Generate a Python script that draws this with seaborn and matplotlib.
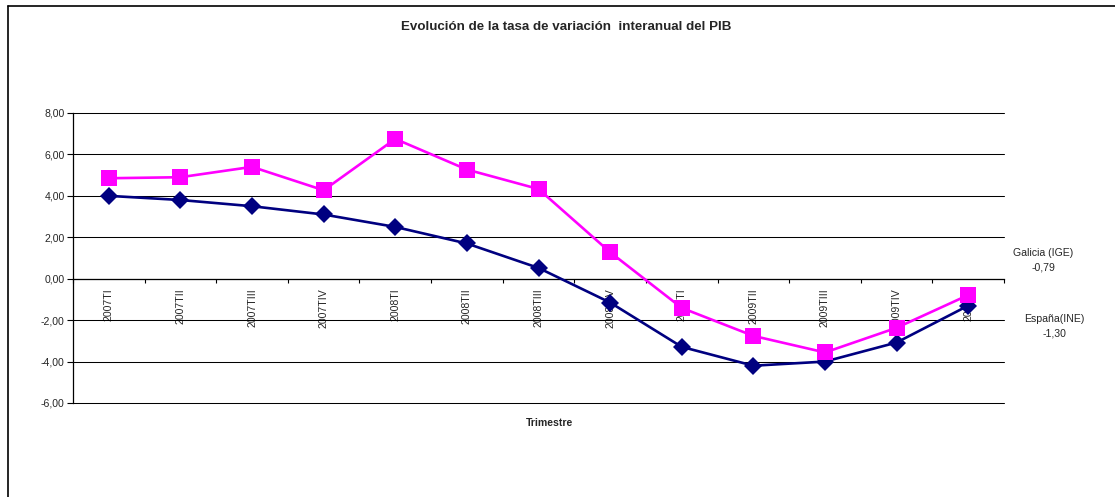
import matplotlib
matplotlib.use("Agg")
import matplotlib.pyplot as plt
from matplotlib.lines import Line2D
from matplotlib.ticker import FixedLocator, FuncFormatter
import seaborn as sns
import pandas as pd
import numpy as np

# Quarterly year-on-year GDP growth (%)
trimestres = ["2007TI", "2007TII", "2007TIII", "2007TIV",
              "2008TI", "2008TII", "2008TIII", "2008TIV",
              "2009TI", "2009TII", "2009TIII", "2009TIV", "2010TI"]
galicia = [4.85, 4.90, 5.40, 4.27, 6.75, 5.27, 4.33, 1.28,
           -1.41, -2.76, -3.56, -2.37, -0.79]
espana = [4.00, 3.80, 3.50, 3.10, 2.50, 1.70, 0.52, -1.15,
          -3.29, -4.20, -4.00, -3.08, -1.30]
series_names = ["Galicia (IGE)", "España(INE)"]

df = pd.DataFrame({
    "pos": list(range(len(trimestres))) * 2,
    "valor": galicia + espana,
    "serie": [series_names[0]] * len(trimestres) + [series_names[1]] * len(trimestres),
})

sns.set_theme(style="white")
plt.rcParams["font.family"] = ["Liberation Sans", "DejaVu Sans"]

fig = plt.figure(figsize=(11.15, 4.97), dpi=100)
ax = fig.add_axes([73 / 1115, 1 - 403 / 497, (1004 - 73) / 1115, 290 / 497])

palette = {series_names[0]: "#FF00FF", series_names[1]: "#000080"}
sns.lineplot(data=df[df.serie == series_names[0]], x="pos", y="valor",
             color=palette[series_names[0]], marker="s", markersize=11,
             markeredgewidth=0, linewidth=1.9, ax=ax, legend=False, zorder=4)
sns.lineplot(data=df[df.serie == series_names[1]], x="pos", y="valor",
             color=palette[series_names[1]], marker="D", markersize=9.5,
             markeredgewidth=0, linewidth=1.9, ax=ax, legend=False, zorder=3)

n = len(trimestres)
ax.set_xlim(-0.5, n - 0.5)
ax.set_ylim(-6, 8)

# y axis with horizontal gridlines every 2 points
ax.yaxis.set_major_locator(FixedLocator(np.arange(-6, 8.01, 2)))
ax.yaxis.set_major_formatter(FuncFormatter(lambda v, p: f"{v:.2f}".replace(".", ",")))
ax.tick_params(axis="y", which="major", direction="out", length=4, width=0.8,
               color="black", labelsize=7.6, pad=2, left=True)
ax.grid(axis="y", color="black", linewidth=0.75)
ax.grid(axis="x", visible=False)
for gl in ax.yaxis.get_gridlines():
    gl.set_clip_on(False)

# category axis crossing at zero
ax.spines["bottom"].set_position(("data", 0))
for s in ["top", "right"]:
    ax.spines[s].set_visible(False)
for s in ["left", "bottom"]:
    ax.spines[s].set_color("black")
    ax.spines[s].set_linewidth(0.9)

ax.xaxis.set_major_locator(FixedLocator(np.arange(-0.5, n, 1.0)))
ax.xaxis.set_major_formatter(FuncFormatter(lambda v, p: ""))
ax.set_xticks(np.arange(n), labels=trimestres, minor=True, rotation=90)
ax.tick_params(axis="x", which="major", direction="out", length=3, width=0.8,
               color="black", bottom=True)
ax.tick_params(axis="x", which="minor", length=0, labelsize=7.6, pad=7, bottom=True)
for lbl in ax.get_xticklabels(minor=True):
    lbl.set_verticalalignment("top")
    lbl.set_horizontalalignment("center")

ax.set_xlabel("")
ax.set_ylabel("")

# titles
fig.text(566 / 1115, 1 - 27 / 497, "Evolución de la tasa de variación  interanual del PIB",
         ha="center", va="center", fontsize=9.6, fontweight="bold")
fig.text(550 / 1115, 1 - 423 / 497, "Trimestre", ha="center", va="center",
         fontsize=7.6, fontweight="bold")

# end-of-series labels
fig.text(1043 / 1115, 1 - 253 / 497, f"{series_names[0]}", ha="center", va="center", fontsize=7.6)
fig.text(1043 / 1115, 1 - 267 / 497, f"{galicia[-1]:.2f}".replace(".", ","),
         ha="center", va="center", fontsize=7.6)
fig.text(1054 / 1115, 1 - 319 / 497, f"{series_names[1]}", ha="center", va="center", fontsize=7.6)
fig.text(1054 / 1115, 1 - 333 / 497, f"{espana[-1]:.2f}".replace(".", ","),
         ha="center", va="center", fontsize=7.6)

# chart area frame
fx0 = 8 / 1115
fy1 = 1 - 6 / 497
fig.add_artist(Line2D([fx0, fx0], [-0.05, fy1], transform=fig.transFigure,
                      color="black", linewidth=1.2))
fig.add_artist(Line2D([fx0, 1.05], [fy1, fy1], transform=fig.transFigure,
                      color="black", linewidth=1.2))

fig.savefig("out.png", dpi=100, facecolor="white")
